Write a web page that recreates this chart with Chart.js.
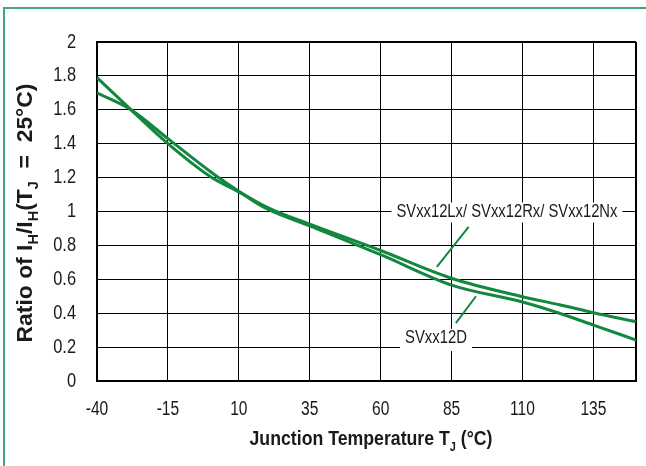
<!DOCTYPE html>
<html>
<head>
<meta charset="utf-8">
<script src="https://cdn.jsdelivr.net/npm/chart.js@4.4.1/dist/chart.umd.min.js"></script>
<style>
  html, body { margin: 0; padding: 0; background: #fff; }
  #wrap { width: 646px; height: 466px; }
</style>
</head>
<body>
<div id="wrap"><canvas id="holdChart"></canvas></div>
<script>
// data
const temps = [-40, -28, -15, 0, 10, 20, 35, 60, 85, 110, 123, 135, 150];
const ratioD = [1.79, 1.60, 1.40, 1.205, 1.115, 1.015, 0.915, 0.745, 0.566, 0.466, 0.40, 0.33, 0.242];
const ratioLx = [1.70, 1.60, 1.43, 1.235, 1.12, 1.025, 0.925, 0.77, 0.606, 0.497, 0.45, 0.403, 0.35];
const xTicks = [-40, -15, 10, 35, 60, 85, 110, 135, 150];
const yTicks = [0, 0.2, 0.4, 0.6, 0.8, 1, 1.2, 1.4, 1.6, 1.8, 2];
const labelLx = 'SVxx12Lx/ SVxx12Rx/ SVxx12Nx';
const labelD = 'SVxx12D';

const FONT = "'Liberation Sans', Arial, sans-serif";
const GREEN = '#12873f';
const INK = '#1a1a1a';

function toPoints(ys) {
  return temps.map((t, i) => ({ x: t, y: ys[i] }));
}

// narrow text: the sheet uses a condensed face, so squeeze horizontally
function narrowText(ctx, txt, x, y, align, sx) {
  ctx.save();
  ctx.translate(x, y);
  ctx.scale(sx, 1);
  ctx.textAlign = align;
  ctx.fillText(txt, 0, 0);
  ctx.restore();
}

// text with subscripts, centred on x, squeezed to fit a width (never stretched much)
function drawRich(ctx, parts, x, y, size, width) {
  const big = 'bold ' + size + 'px ' + FONT;
  const small = 'bold ' + Math.round(size * 0.62) + 'px ' + FONT;
  let w = 0;
  parts.forEach(p => { ctx.font = p.sub ? small : big; w += ctx.measureText(p.t).width; });
  const sx = Math.min(width / w, 1.04);
  ctx.save();
  ctx.translate(x - (w * sx) / 2, y);
  ctx.scale(sx, 1);
  ctx.textBaseline = 'alphabetic';
  ctx.textAlign = 'left';
  let cx = 0;
  parts.forEach(p => {
    ctx.font = p.sub ? small : big;
    ctx.fillText(p.t, cx, p.sub ? size * 0.28 : 0);
    cx += ctx.measureText(p.t).width;
  });
  ctx.restore();
}

const extras = {
  id: 'extras',
  beforeDraw(chart) {
    const ctx = chart.ctx;
    ctx.save();
    ctx.fillStyle = '#fff';
    ctx.fillRect(0, 0, chart.width, chart.height);
    // green frame, top and left only
    ctx.strokeStyle = '#46a679';
    ctx.lineWidth = 2;
    ctx.beginPath();
    ctx.moveTo(646, 8);
    ctx.lineTo(4, 8);
    ctx.lineTo(4, 466);
    ctx.stroke();
    ctx.restore();
  },
  afterDatasetsDraw(chart) {
    const ctx = chart.ctx;
    const xs = chart.scales.x, ys = chart.scales.y;
    ctx.save();
    // leader lines
    ctx.strokeStyle = GREEN;
    ctx.lineWidth = 2;
    ctx.beginPath();
    ctx.moveTo(xs.getPixelForValue(91), ys.getPixelForValue(0.909));
    ctx.lineTo(xs.getPixelForValue(79.8), ys.getPixelForValue(0.673));
    ctx.moveTo(xs.getPixelForValue(86.5), ys.getPixelForValue(0.342));
    ctx.lineTo(xs.getPixelForValue(93.6), ys.getPixelForValue(0.50));
    ctx.stroke();
    // labels on white boxes
    ctx.font = '18px ' + FONT;
    ctx.textBaseline = 'middle';
    [[labelLx, 104.5, 1.0, 221, 9, 11], [labelD, 79.5, 0.26, 62, 8, 14]].forEach(([txt, tx, ty, tw, up, down]) => {
      const px = xs.getPixelForValue(tx), py = ys.getPixelForValue(ty);
      const sx = tw / ctx.measureText(txt).width;
      ctx.fillStyle = '#fff';
      ctx.fillRect(px - tw / 2 - 5, py - up, tw + 10, up + down);
      ctx.fillStyle = INK;
      narrowText(ctx, txt, px, py + 1, 'center', sx);
    });
    ctx.restore();
  },
  afterDraw(chart) {
    const ctx = chart.ctx;
    const xs = chart.scales.x, ys = chart.scales.y;
    ctx.save();
    ctx.fillStyle = INK;
    // tick labels
    ctx.font = '20px ' + FONT;
    ctx.textBaseline = 'middle';
    xTicks.slice(0, -1).forEach(v => {
      narrowText(ctx, String(v), xs.getPixelForValue(v), 409, 'center', 0.78);
    });
    yTicks.forEach(v => {
      narrowText(ctx, String(+v.toFixed(1)), 76, ys.getPixelForValue(v), 'right', 0.82);
    });
    // axis titles
    drawRich(ctx, [{ t: 'Junction Temperature T' }, { t: 'J', sub: true }, { t: ' (°C)' }], 371, 445, 21, 243);
    ctx.translate(32, 213);
    ctx.rotate(-Math.PI / 2);
    drawRich(ctx, [{ t: 'Ratio of I' }, { t: 'H', sub: true }, { t: '/I' }, { t: 'H', sub: true },
      { t: '(T' }, { t: 'J', sub: true }, { t: '  =  25°C)' }], 0, 0, 22, 298);
    ctx.restore();
  }
};

const ctx = document.getElementById('holdChart').getContext('2d');
const holdChart = new Chart(ctx, {
  type: 'line',
  data: {
    datasets: [{
      label: labelLx,
      data: toPoints(ratioLx),
      borderColor: GREEN,
      borderWidth: 3,
      pointRadius: 0,
      cubicInterpolationMode: 'monotone',
      fill: false
    }, {
      label: labelD,
      data: toPoints(ratioD),
      borderColor: GREEN,
      borderWidth: 3,
      pointRadius: 0,
      cubicInterpolationMode: 'monotone',
      fill: false
    }]
  },
  options: {
    responsive: true,
    maintainAspectRatio: false,
    animation: false,
    devicePixelRatio: 1,
    layout: { padding: { left: 0, right: 10, top: 42, bottom: 0 } },
    plugins: { legend: { display: false }, tooltip: { enabled: false } },
    scales: {
      x: {
        type: 'linear',
        min: -40,
        max: 150,
        afterBuildTicks: s => { s.ticks = xTicks.map(v => ({ value: v })); },
        afterFit: s => { s.height = 85; },
        grid: {
          color: '#000',
          lineWidth: c => (c.index === xTicks.length - 1 ? 2 : 1),
          drawTicks: false
        },
        border: { color: '#000', width: 2 },
        ticks: { display: false }
      },
      y: {
        min: 0,
        max: 2,
        afterBuildTicks: s => { s.ticks = yTicks.map(v => ({ value: v })); },
        afterFit: s => { s.width = 97; },
        grid: {
          color: '#000',
          lineWidth: c => (c.index === yTicks.length - 1 ? 2 : 1),
          drawTicks: false
        },
        border: { color: '#000', width: 2 },
        ticks: { display: false }
      }
    }
  },
  plugins: [extras]
});
</script>
</body>
</html>
